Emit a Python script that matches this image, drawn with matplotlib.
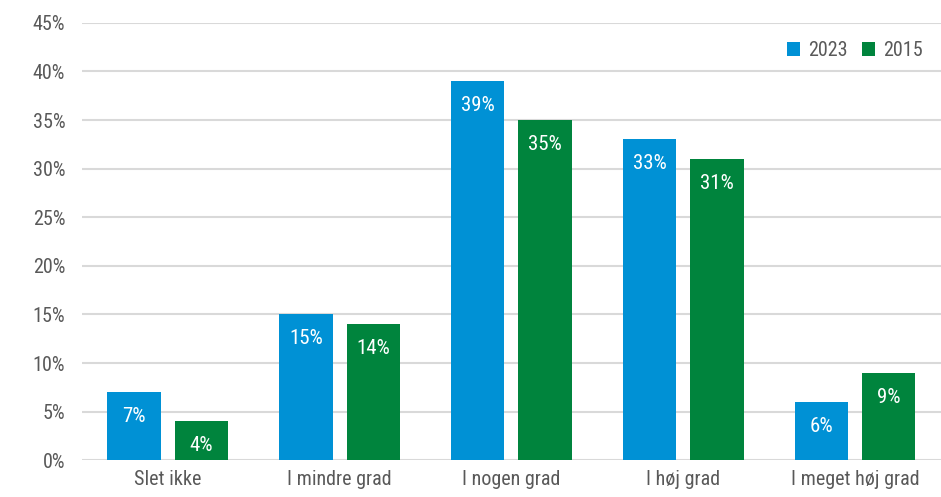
import matplotlib

matplotlib.use("Agg")
import matplotlib.pyplot as plt
import numpy as np
from matplotlib.ticker import PercentFormatter

categories = ["Slet ikke", "I mindre grad", "I nogen grad", "I høj grad", "I meget høj grad"]
vals_2023 = [7, 15, 39, 33, 6]
vals_2015 = [4, 14, 35, 31, 9]
series = ["2023", "2015"]
colors = ["#0091d5", "#00843d"]

plt.rcParams["font.family"] = ["Roboto Condensed", "Liberation Sans", "DejaVu Sans"]

fig = plt.figure(figsize=(9.41, 4.97), dpi=100)
ax = fig.add_axes([0.087, 0.074, 0.913, 0.88])

x = np.arange(len(categories))
w = 0.31
off = 0.196
for vals, name, col, dx in [(vals_2023, series[0], colors[0], -off),
                            (vals_2015, series[1], colors[1], off)]:
    bars = ax.bar(x + dx, vals, width=w, color=col, label=name, zorder=3)
    for b, v in zip(bars, vals):
        ax.text(b.get_x() + b.get_width() / 2, v - 2.5, f"{v}%", ha="center", va="center",
                color="white", fontsize=15, zorder=4)

ax.set_xlim(-0.5, len(categories) - 0.5)
ax.set_ylim(0, 45)
ax.set_yticks(np.arange(0, 46, 5))
ax.yaxis.set_major_formatter(PercentFormatter(decimals=0))
ax.set_xticks(x)
ax.set_xticklabels(categories)
ax.tick_params(axis="both", length=0, labelsize=14.5, labelcolor="#595959")
ax.tick_params(axis="y", pad=12)
ax.tick_params(axis="x", pad=7)
ax.grid(axis="y", color="#d9d9d9", linewidth=1.5, zorder=0)
for s in ax.spines.values():
    s.set_visible(False)

leg = ax.legend(loc="upper right", bbox_to_anchor=(1.0, 1.0), ncol=2, frameon=False,
                handlelength=0.65, handleheight=0.65, handletextpad=0.4, columnspacing=0.7,
                fontsize=14.5, labelcolor="#595959")

fig.savefig("out.png", dpi=100)
